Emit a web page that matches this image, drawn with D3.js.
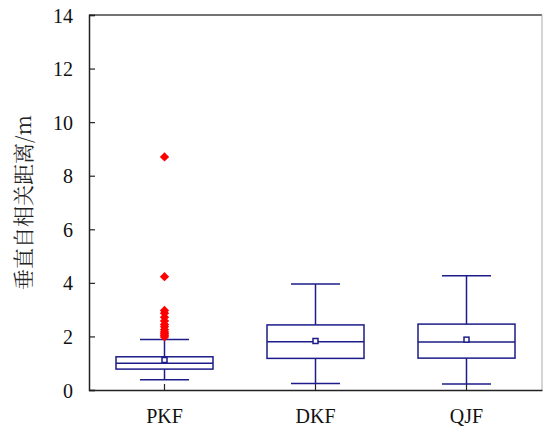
<!DOCTYPE html>
<html>
<head>
<meta charset="utf-8">
<script src="https://cdn.jsdelivr.net/npm/d3@7"></script>
<style>
  body { margin: 0; background: #fff; }
  svg { display: block; }
</style>
</head>
<body>
<div id="chart"></div>
<script>
// 数据
const categories = ["PKF", "DKF", "QJF"];
const whiskerLow = [0.38, 0.24, 0.22];
const q1 = [0.78, 1.18, 1.19];
const median = [1.0, 1.80, 1.79];
const q3 = [1.24, 2.43, 2.46];
const whiskerHigh = [1.89, 3.96, 4.27];
const means = [1.12, 1.83, 1.88];
const outliersPKF = [8.7, 4.23, 2.97, 2.87, 2.72, 2.58, 2.45, 2.36, 2.25, 2.17, 2.1, 2.04, 1.98];
const yTicks = [0, 2, 4, 6, 8, 10, 12, 14];

const width = 543, height = 428;
const margin = {top: 15, right: 1, bottom: 38, left: 89};
const boxColor = "#1c1c8a";
const serif = "'Liberation Serif', 'Times New Roman', serif";

const svg = d3.select("#chart").append("svg")
    .attr("width", width)
    .attr("height", height);

const x = d3.scaleBand()
    .domain(categories)
    .range([margin.left, width - margin.right]);

const y = d3.scaleLinear()
    .domain([0, 14])
    .range([height - margin.bottom, margin.top]);

// 外框
svg.append("line")
    .attr("x1", margin.left).attr("x2", width - margin.right)
    .attr("y1", margin.top).attr("y2", margin.top)
    .attr("stroke", "#444").attr("stroke-width", 1.5);
svg.append("line")
    .attr("x1", width - margin.right).attr("x2", width - margin.right)
    .attr("y1", margin.top).attr("y2", height - margin.bottom)
    .attr("stroke", "#aaa").attr("stroke-width", 1);

// y 轴
const gy = svg.append("g")
    .attr("transform", `translate(${margin.left},0)`)
    .call(d3.axisRight(y).tickValues(yTicks).tickSize(6).tickFormat(d3.format("d")));
gy.select(".domain").attr("stroke", "#222").attr("stroke-width", 1.5);
gy.selectAll(".tick line").attr("stroke", "#222").attr("stroke-width", 1.2);
gy.selectAll(".tick text")
    .attr("x", -16)
    .attr("text-anchor", "end")
    .attr("dy", "0.35em")
    .attr("fill", "#111")
    .style("font-family", serif)
    .style("font-size", "20px");

// x 轴
const gx = svg.append("g")
    .attr("transform", `translate(0,${height - margin.bottom})`)
    .call(d3.axisTop(x).tickSize(6).tickSizeOuter(0));
gx.select(".domain").attr("stroke", "#222").attr("stroke-width", 1.5);
gx.selectAll(".tick line").attr("stroke", "#222").attr("stroke-width", 1.2);
gx.selectAll(".tick text")
    .attr("y", 33)
    .attr("dy", 0)
    .attr("fill", "#111")
    .style("font-family", serif)
    .style("font-size", "20px");

// y 轴标题
svg.append("text")
    .attr("transform", `translate(31,${(margin.top + height - margin.bottom) / 2}) rotate(-90)`)
    .attr("text-anchor", "middle")
    .attr("fill", "#222")
    .style("font-size", "21px")
    .style("font-family", "'Noto Serif CJK SC', 'Noto Sans CJK SC', serif")
    .text("垂直自相关距离/m");

// 箱线图
const boxW = 97, capW = 49;
const boxes = svg.append("g");
categories.forEach((c, i) => {
    const cx = x(c) + x.bandwidth() / 2;
    const g = boxes.append("g").attr("stroke", boxColor).attr("stroke-width", 1.5).attr("fill", "none");
    // 须线
    g.append("line").attr("x1", cx).attr("x2", cx).attr("y1", y(whiskerLow[i])).attr("y2", y(q1[i]));
    g.append("line").attr("x1", cx).attr("x2", cx).attr("y1", y(q3[i])).attr("y2", y(whiskerHigh[i]));
    g.append("line").attr("x1", cx - capW / 2).attr("x2", cx + capW / 2)
        .attr("y1", y(whiskerLow[i])).attr("y2", y(whiskerLow[i]));
    g.append("line").attr("x1", cx - capW / 2).attr("x2", cx + capW / 2)
        .attr("y1", y(whiskerHigh[i])).attr("y2", y(whiskerHigh[i]));
    // 箱体
    g.append("rect")
        .attr("x", cx - boxW / 2).attr("width", boxW)
        .attr("y", y(q3[i])).attr("height", y(q1[i]) - y(q3[i]));
    g.append("line").attr("x1", cx - boxW / 2).attr("x2", cx + boxW / 2)
        .attr("y1", y(median[i])).attr("y2", y(median[i]));
    // 均值
    g.append("rect")
        .attr("x", cx - 2.5).attr("y", y(means[i]) - 2.5)
        .attr("width", 5).attr("height", 5)
        .attr("fill", "#fff");
});

// 异常值
const cxPKF = x("PKF") + x.bandwidth() / 2;
svg.append("g").selectAll("path")
    .data(outliersPKF)
    .enter()
    .append("path")
    .attr("d", d3.symbol().type(d3.symbolDiamond2).size(55))
    .attr("transform", d => `translate(${cxPKF},${y(d)})`)
    .attr("fill", "#ff0000");
</script>
</body>
</html>
